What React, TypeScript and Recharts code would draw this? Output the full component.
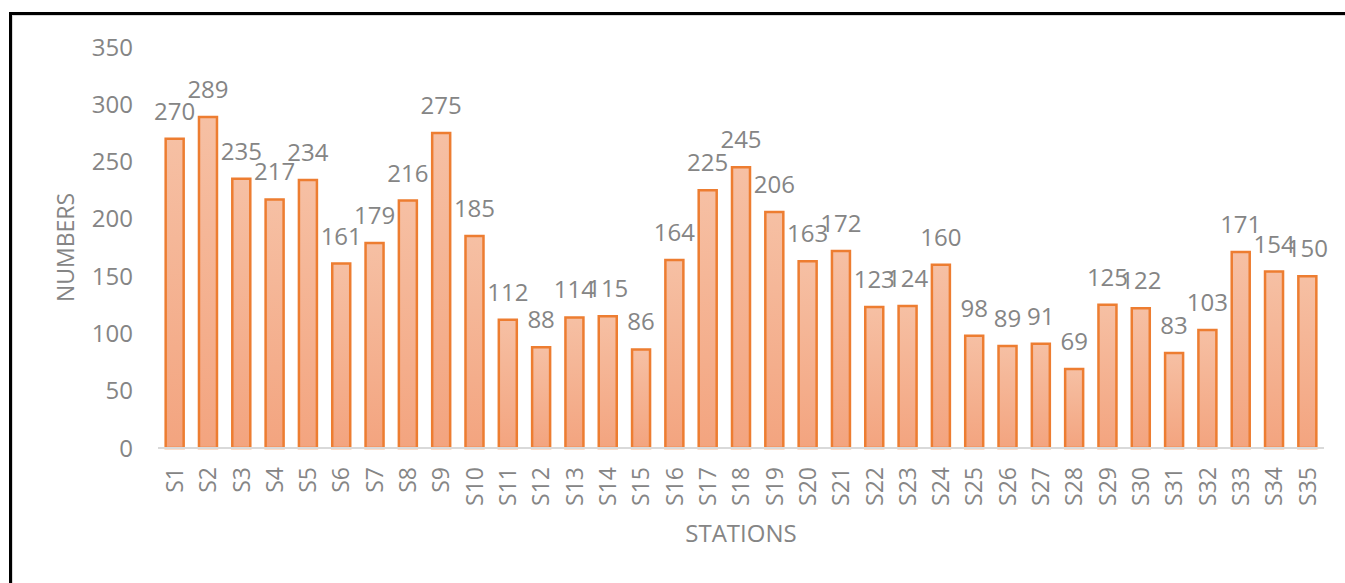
import React from 'react';
import { BarChart, Bar, XAxis, YAxis, LabelList } from 'recharts';

// Station identifiers along the horizontal axis
const stations: string[] = [
  'S1', 'S2', 'S3', 'S4', 'S5', 'S6', 'S7', 'S8', 'S9', 'S10',
  'S11', 'S12', 'S13', 'S14', 'S15', 'S16', 'S17', 'S18', 'S19', 'S20',
  'S21', 'S22', 'S23', 'S24', 'S25', 'S26', 'S27', 'S28', 'S29', 'S30',
  'S31', 'S32', 'S33', 'S34', 'S35',
];

// Count recorded at each station
const numbers: number[] = [
  270, 289, 235, 217, 234, 161, 179, 216, 275, 185,
  112, 88, 114, 115, 86, 164, 225, 245, 206, 163,
  172, 123, 124, 160, 98, 89, 91, 69, 125, 122,
  83, 103, 171, 154, 150,
];

// Y axis ticks
const yTicks: number[] = [0, 50, 100, 150, 200, 250, 300, 350];

const rows = stations.map((s, i) => ({ station: s, value: numbers[i] }));

const FONT = '"Open Sans", sans-serif';
const GRAY = '#858585';

const StationTick = (props: any) => {
  const { x, y, payload } = props;
  return (
    <text
      x={x}
      y={y}
      transform={`rotate(-90 ${x} ${y})`}
      textAnchor="end"
      dy="0.36em"
      fill={GRAY}
      fontSize={23}
      fontFamily={FONT}
    >
      {payload.value}
    </text>
  );
};

const XTitle = (props: any) => {
  const vb = props.viewBox;
  return (
    <text
      x={vb.x + vb.width / 2}
      y={vb.y + 94}
      textAnchor="middle"
      fill={GRAY}
      fontSize={24}
      fontFamily={FONT}
    >
      STATIONS
    </text>
  );
};

const YTitle = (props: any) => {
  const vb = props.viewBox;
  const cx = vb.x + 66;
  const cy = vb.y + vb.height / 2;
  return (
    <text
      x={cx}
      y={cy}
      transform={`rotate(-90 ${cx} ${cy})`}
      textAnchor="middle"
      dy="0.36em"
      fill={GRAY}
      fontSize={23}
      fontFamily={FONT}
    >
      NUMBERS
    </text>
  );
};

export default function App() {
  return (
    <div style={{ position: 'absolute', left: 0, top: 0, width: 1345, height: 583, background: '#fff' }}>
      {/* frame around the chart */}
      <div
        style={{
          position: 'absolute',
          left: 9,
          top: 12,
          width: 1400,
          height: 700,
          borderTop: '3px solid #000',
          borderLeft: '3px solid #000',
        }}
      >
        <div
          style={{
            position: 'absolute',
            left: 0,
            top: 0,
            right: 0,
            bottom: 0,
            borderTop: '1px solid #d9d9d9',
            borderLeft: '1px solid #d9d9d9',
          }}
        />
      </div>
      <div style={{ position: 'absolute', left: 0, top: 0 }}>
        <BarChart
          width={1345}
          height={583}
          data={rows}
          margin={{ top: 47, right: 21, bottom: 45, left: 0 }}
          barCategoryGap="23%"
        >
          <defs>
            <linearGradient id="barFill" x1="0" y1="0" x2="0" y2="1">
              <stop offset="0%" stopColor="#f6c0a4" />
              <stop offset="100%" stopColor="#f3a47f" />
            </linearGradient>
          </defs>
          <XAxis
            dataKey="station"
            interval={0}
            height={90}
            tickLine={false}
            axisLine={{ stroke: '#d9d9d9', strokeWidth: 2 }}
            tickMargin={13}
            tick={<StationTick />}
            label={{ content: <XTitle /> }}
          />
          <YAxis
            width={158}
            domain={[0, 350]}
            ticks={yTicks}
            interval={0}
            tickLine={false}
            axisLine={false}
            tickMargin={19}
            tick={{ fill: GRAY, fontSize: 24, fontFamily: FONT }}
            label={{ content: <YTitle /> }}
          />
          <Bar
            dataKey="value"
            fill="url(#barFill)"
            stroke="#ed7d31"
            strokeWidth={2.5}
            isAnimationActive={false}
          >
            <LabelList
              dataKey="value"
              position="top"
              offset={19}
              fill={GRAY}
              fontSize={24}
              fontFamily={FONT}
            />
          </Bar>
        </BarChart>
      </div>
    </div>
  );
}
